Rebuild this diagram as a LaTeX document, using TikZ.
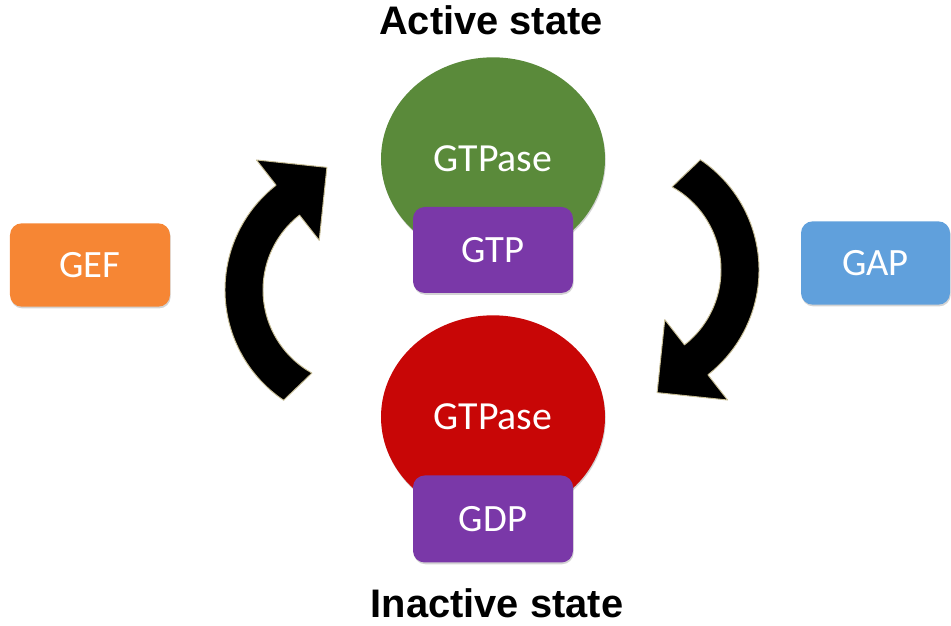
\documentclass[tikz,border=0pt]{standalone}
\usepackage{fontspec}
\setmainfont{Carlito}
\newfontfamily\headfont{Liberation Sans}
\usetikzlibrary{shapes.geometric, shadows, calc}
\definecolor{gef orange}{RGB}{246,134,52}
\definecolor{gap blue}{RGB}{96,160,220}
\definecolor{nucleotide purple}{RGB}{122,56,168}
\definecolor{active green}{RGB}{90,138,58}
\definecolor{inactive red}{RGB}{200,6,6}
\definecolor{arrow edge}{RGB}{200,190,150}
\tikzset{soft shadow/.style={drop shadow={shadow xshift=0.6pt, shadow yshift=-1.5pt, opacity=0.35}}}
\tikzset{protein/.style={ellipse, inner sep=0pt, minimum width=6.72cm, minimum height=6.1cm, text=white, font=\fontsize{34}{40}\selectfont, soft shadow}}
\tikzset{nucleotide/.style={rectangle, rounded corners=10pt, minimum width=4.8cm, minimum height=2.58cm, fill=nucleotide purple, text=white, font=\fontsize{33}{40}\selectfont, soft shadow}}
\tikzset{factor/.style={rectangle, rounded corners=10pt, minimum height=2.5cm, text=white, font=\fontsize{33}{40}\selectfont, soft shadow}}
\tikzset{cycle arrow/.style={fill=black, draw=arrow edge, line width=0.8pt, line join=round}}
\tikzset{state label/.style={anchor=base, font=\headfont\bfseries\fontsize{34}{40}\selectfont}}

\begin{document}
\begin{tikzpicture}[x=0.03cm, y=0.03cm]
\useasboundingbox (0,0) rectangle (951,626);
% the two states
\node[protein, fill=active green] (active) at (493,467) {GTPase};
\node[nucleotide] (gtp) at (493,376) {GTP};
\node[protein, fill=inactive red] (inactive) at (493,209) {GTPase};
\node[nucleotide, minimum height=2.61cm] (gdp) at (493,107) {GDP};
\node[state label] (active label) at (491,591) {Active state};
\node[state label] (inactive label) at (497,8) {Inactive state};
% exchange and activating factors
\node[factor, fill=gef orange, minimum width=4.8cm] (gef) at (90,361) {GEF};
\node[factor, fill=gap blue, minimum width=4.47cm] (gap) at (875.5,363) {GAP};
% curved arrows
\coordinate (gef turn) at (358,336);
\draw[cycle arrow] ($(gef turn)+(236:133)$) arc[start angle=236, end angle=128, radius=133]
    -- ($(gef turn)+(128:165)$) -- ($(gef turn)+(128:114)+(40:51)$) -- ($(gef turn)+(128:63)$)
    -- ($(gef turn)+(128:95)$) arc[start angle=128, end angle=241, radius=95] -- cycle;
\begin{scope}[rotate around={180:(492,346)}]
\coordinate (gap turn) at (358,336);
\draw[cycle arrow] ($(gap turn)+(236:133)$) arc[start angle=236, end angle=128, radius=133]
    -- ($(gap turn)+(128:165)$) -- ($(gap turn)+(128:114)+(40:51)$) -- ($(gap turn)+(128:63)$)
    -- ($(gap turn)+(128:95)$) arc[start angle=128, end angle=241, radius=95] -- cycle;
\end{scope}
\end{tikzpicture}
\end{document}
